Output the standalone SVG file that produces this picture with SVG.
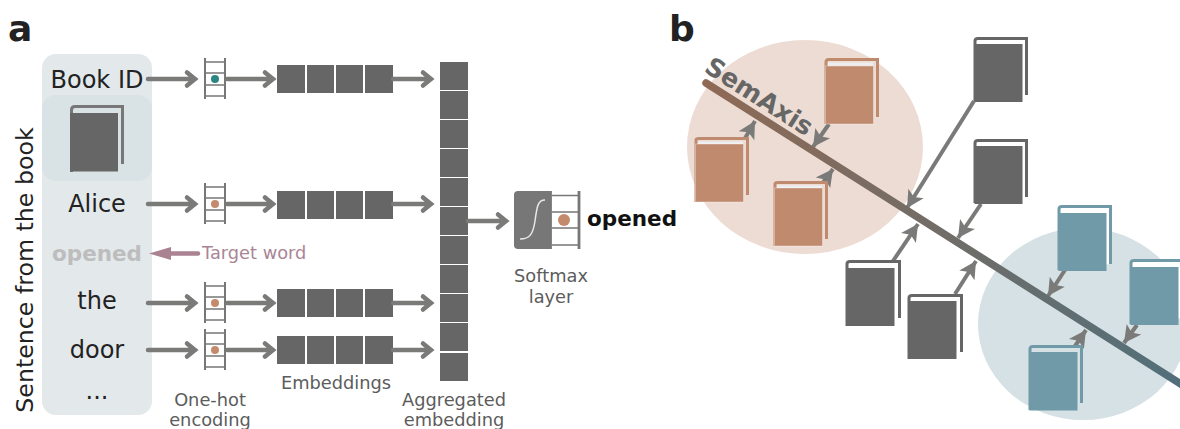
<svg xmlns="http://www.w3.org/2000/svg" width="1180" height="429" viewBox="0 0 1180 429" font-family="'DejaVu Sans',sans-serif">
<style>
.w{font-size:24px;fill:#222;text-anchor:middle}
.c{font-size:17.8px;fill:#5c5c5c;text-anchor:middle}
.p{font-size:36px;font-weight:bold;fill:#222}
.h{fill:none;stroke:#7a7a78;stroke-width:4.5;stroke-linejoin:miter;stroke-linecap:round}
.e{fill:#666}
.k{stroke:#fff;stroke-opacity:.35;stroke-width:1}
</style>
<defs>
<marker id="m" markerUnits="userSpaceOnUse" markerWidth="20" markerHeight="20" refX="18" refY="10" orient="auto" viewBox="0 0 20 20"><path d="M1 1L18 10L1 19L5 10Z" fill="#7a7a78"/></marker>
<linearGradient id="g" gradientUnits="userSpaceOnUse" x1="706" y1="83" x2="1180" y2="383"><stop offset="0" stop-color="#8f6a55"/><stop offset="1" stop-color="#526f7a"/></linearGradient>
<g id="ladder4"><path d="M-10 -17H10M-10 -6H10M-10 6H10M-10 17H10" stroke="#777" stroke-width="1.500" fill="none"/><path d="M-10 -21V20M10 -21V20" stroke="#777" stroke-width="2" fill="none"/></g>
<g id="emb"><rect width="28" height="28" class="e"/><rect x="30" width="27" height="28" class="e"/><rect x="59" width="27" height="28" class="e"/><rect x="88" width="28" height="28" class="e"/></g>
</defs>
<g id="panel-a">
<rect x="42" y="54" width="110" height="361" rx="14" fill="#e3e9eb"/>
<rect x="42" y="95" width="110" height="86" rx="14" fill="#d9e2e5"/>
<text class="p" x="8" y="41">a</text>
<text x="33" y="270" font-size="23.700" fill="#222" text-anchor="middle" transform="rotate(-90 33 270)">Sentence from the book</text>
<g id="book-a"><path d="M71.500 172V110Q71.500 106.500 75 106.500H122.500V164" fill="none" stroke="#777" stroke-width="3"/><rect x="70" y="113" width="48" height="58.500" fill="#666"/></g>
<g id="word-bookid"><text class="w" x="97" y="88">Book ID</text></g>
<g id="word-alice"><text class="w" x="97" y="212">Alice</text></g>
<g id="word-opened"><text x="97" y="261" font-size="21.500" font-weight="bold" fill="#bdbdbd" text-anchor="middle">opened</text></g>
<g id="word-the"><text class="w" x="97" y="309">the</text></g>
<g id="word-door"><text class="w" x="97" y="358">door</text></g>
<g id="word-dots"><text class="w" x="97" y="399">...</text></g>
<g id="target"><text x="202" y="259" font-size="17.800" fill="#a98596">Target word</text></g>
<g id="onehot-1"><use href="#ladder4" x="215" y="79"/><circle cx="215" cy="79" r="4" fill="#2a8680"/></g>
<g id="onehot-2"><use href="#ladder4" x="215" y="204"/><circle cx="215" cy="204" r="4" fill="#c48a6c"/></g>
<g id="onehot-3"><use href="#ladder4" x="215" y="303"/><circle cx="215" cy="303" r="4" fill="#c48a6c"/></g>
<g id="onehot-4"><use href="#ladder4" x="215" y="350"/><circle cx="215" cy="350" r="4" fill="#c48a6c"/></g>
<g id="emb-1"><use href="#emb" x="277" y="65"/></g>
<g id="emb-2"><use href="#emb" x="277" y="191"/></g>
<g id="emb-3"><use href="#emb" x="277" y="289"/></g>
<g id="emb-4"><use href="#emb" x="277" y="336"/></g>
<g id="aggregated" fill="#666">
<rect x="440" y="62" width="28" height="28"/><rect x="440" y="91" width="28" height="28"/><rect x="440" y="120" width="28" height="28"/><rect x="440" y="149" width="28" height="28"/><rect x="440" y="178" width="28" height="28"/><rect x="440" y="207" width="28" height="28"/><rect x="440" y="236" width="28" height="28"/><rect x="440" y="265" width="28" height="28"/><rect x="440" y="294" width="28" height="28"/><rect x="440" y="323" width="28" height="28"/><rect x="440" y="353" width="28" height="28"/>
</g>
<g id="softmax">
<path d="M514 195a4 4 0 0 1 4-4h33v58h-33a4 4 0 0 1-4-4z" fill="#777"/>
<path d="M520 239C530 239 533 234 535 221C537 206 538 200 545 200" fill="none" stroke="#e8e8e8" stroke-width="1.500"/>
<path d="M552 195.500H579M552 212H579M552 228H579M552 245H579" stroke="#777" stroke-width="1.600" fill="none"/>
<path d="M550.500 191V249M579 191V249" stroke="#777" stroke-width="2.800" fill="none"/>
<circle cx="564" cy="220" r="6" fill="#c48a6c"/>
</g>
<g id="output"><text x="587" y="226" font-size="21.500" font-weight="bold" fill="#111">opened</text></g>
<text class="c" x="210" y="406">One-hot</text><text class="c" x="210" y="426">encoding</text>
<text class="c" x="336" y="389">Embeddings</text>
<text class="c" x="454" y="406">Aggregated</text><text class="c" x="454" y="426">embedding</text>
<text class="c" x="551" y="282">Softmax</text><text class="c" x="551" y="303">layer</text>
</g>
<g id="connectors-a">
<path class="h" d="M148 79H195M187 72.500L195 79L187 85.500"/>
<path class="h" d="M227 79H273M265 72.500L273 79L265 85.500"/>
<path class="h" d="M393 79H431M423 72.500L431 79L423 85.500"/>
<path class="h" d="M148 204H195M187 197.500L195 204L187 210.500"/>
<path class="h" d="M227 204H273M265 197.500L273 204L265 210.500"/>
<path class="h" d="M393 204H431M423 197.500L431 204L423 210.500"/>
<path class="h" d="M148 303H195M187 296.500L195 303L187 309.500"/>
<path class="h" d="M227 303H273M265 296.500L273 303L265 309.500"/>
<path class="h" d="M393 303H431M423 296.500L431 303L423 309.500"/>
<path class="h" d="M148 350H195M187 343.500L195 350L187 356.500"/>
<path class="h" d="M227 350H273M265 343.500L273 350L265 356.500"/>
<path class="h" d="M393 350H431M423 343.500L431 350L423 356.500"/>
<path class="h" d="M468 221H506M498 214.500L506 221L498 227.500"/>
<path d="M198 253.500H170" stroke="#ab8292" stroke-width="4.500" stroke-linecap="round" fill="none"/>
<path d="M149 253.500L171 247V260Z" fill="#ab8292"/>
</g>
<g id="panel-b">
<text class="p" x="669" y="41">b</text>
<ellipse cx="805" cy="147" rx="118" ry="107" fill="#eddcd4"/>
<ellipse cx="1083" cy="324" rx="105" ry="96" fill="#d5e1e4"/>
</g>
<g id="connectors-b" stroke="#7a7a78" stroke-width="4" fill="none">
<path d="M744 140L755 121" marker-end="url(#m)"/>
<path d="M829 124L813 147" marker-end="url(#m)"/>
<path d="M822 184L833 169" marker-end="url(#m)"/>
<path d="M974 101L907 208" marker-end="url(#m)"/>
<path d="M981 204L958 238" marker-end="url(#m)"/>
<path d="M893 261L918 224" marker-end="url(#m)"/>
<path d="M955 294L976 261" marker-end="url(#m)"/>
<path d="M1065 270L1048 296" marker-end="url(#m)"/>
<path d="M1137 325L1124 343" marker-end="url(#m)"/>
<path d="M1073 349L1086 330" marker-end="url(#m)"/>
</g>
<g id="semaxis">
<path d="M706 83L1184 386" stroke="url(#g)" stroke-width="7.500" stroke-linecap="round" fill="none"/>
<text x="703" y="71" font-size="25.500" font-weight="bold" fill="#666" transform="rotate(32.500 703 71)">SemAxis</text>
</g>
<g id="book-1"><path d="M826 124V62Q826 59.500 829 59.500H877.500V117" fill="#eddcd4" stroke="#c08a6e" stroke-width="3"/><path d="M828 64H873" stroke="#eee" stroke-width="3"/><rect class="k" x="825.500" y="66" width="48" height="58" fill="#c08a6e"/></g>
<g id="book-2"><path d="M696 202V140Q696 138.500 699 138.500H747.500V195" fill="#eddcd4" stroke="#c08a6e" stroke-width="3"/><path d="M698 143H743" stroke="#eee" stroke-width="3"/><rect class="k" x="695.500" y="144" width="48" height="58" fill="#c08a6e"/></g>
<g id="book-3"><path d="M775 246V184Q775 182.500 778 182.500H826.500V239" fill="#eddcd4" stroke="#c08a6e" stroke-width="3"/><path d="M777 187H822" stroke="#eee" stroke-width="3"/><rect class="k" x="774.500" y="188" width="48" height="58" fill="#c08a6e"/></g>
<g id="book-4"><path d="M975 101V41Q975 38.500 978 38.500H1026.500V95" fill="#fff" stroke="#666" stroke-width="3"/><rect x="974.500" y="44" width="48" height="58" fill="#666"/></g>
<g id="book-5"><path d="M975 203V143Q975 140.500 978 140.500H1026.500V197" fill="#fff" stroke="#666" stroke-width="3"/><rect x="974.500" y="146" width="48" height="58" fill="#666"/></g>
<g id="book-6"><path d="M847 326V264Q847 261.500 850 261.500H899.500V318" fill="#fff" stroke="#666" stroke-width="3"/><rect x="846.500" y="268" width="48" height="58" fill="#666"/></g>
<g id="book-7"><path d="M909 359V298Q909 295.500 912 295.500H961.500V352" fill="#fff" stroke="#666" stroke-width="3"/><rect x="908.500" y="301" width="48" height="58" fill="#666"/></g>
<g id="book-8"><path d="M1059 270V209Q1059 206.500 1062 206.500H1110.500V264" fill="#fff" stroke="#709aa8" stroke-width="3"/><rect x="1058.500" y="213" width="48" height="58" fill="#709aa8"/></g>
<g id="book-9"><path d="M1131 324V263Q1131 260.500 1134 260.500H1182.500V318" fill="#fff" stroke="#709aa8" stroke-width="3"/><rect x="1130.500" y="267" width="48" height="58" fill="#709aa8"/></g>
<g id="book-10"><path d="M1030 410V349Q1030 346.500 1033 346.500H1081.500V403" fill="#d5e1e4" stroke="#709aa8" stroke-width="3"/><rect x="1029.500" y="352" width="48" height="58.500" fill="#709aa8"/></g>
</svg>
